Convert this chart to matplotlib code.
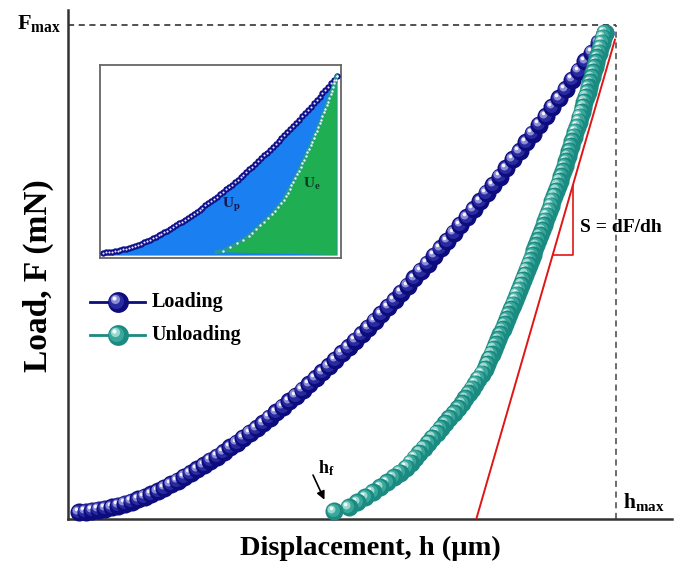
import matplotlib
matplotlib.use("Agg")
import matplotlib.pyplot as plt
from matplotlib.transforms import offset_copy

# load-displacement curve of a nanoindentation test (normalised: h_max = 1, F_max = 1)
h_load = [0.020, 0.032, 0.044, 0.056, 0.068, 0.080, 0.092, 0.104, 0.116, 0.128,
          0.140, 0.152, 0.164, 0.176, 0.188, 0.200, 0.212, 0.224, 0.236, 0.248,
          0.260, 0.272, 0.284, 0.296, 0.308, 0.320, 0.332, 0.344, 0.356, 0.368,
          0.380, 0.392, 0.404, 0.416, 0.428, 0.440, 0.452, 0.464, 0.476, 0.488,
          0.500, 0.512, 0.524, 0.536, 0.548, 0.560, 0.572, 0.584, 0.596, 0.608,
          0.620, 0.632, 0.644, 0.656, 0.668, 0.680, 0.692, 0.704, 0.716, 0.728,
          0.740, 0.752, 0.764, 0.776, 0.788, 0.800, 0.812, 0.824, 0.836, 0.848,
          0.860, 0.872, 0.884, 0.896, 0.908, 0.920, 0.932, 0.944, 0.956, 0.968,
          0.980]
F_load = [0.014, 0.015, 0.017, 0.019, 0.021, 0.024, 0.027, 0.031, 0.035, 0.040,
          0.045, 0.050, 0.056, 0.063, 0.070, 0.077, 0.085, 0.093, 0.101, 0.109,
          0.118, 0.126, 0.135, 0.145, 0.154, 0.164, 0.174, 0.184, 0.194, 0.205,
          0.216, 0.227, 0.238, 0.249, 0.261, 0.273, 0.285, 0.297, 0.309, 0.322,
          0.335, 0.348, 0.361, 0.374, 0.387, 0.401, 0.415, 0.429, 0.443, 0.458,
          0.472, 0.487, 0.502, 0.517, 0.533, 0.548, 0.563, 0.579, 0.595, 0.611,
          0.627, 0.643, 0.660, 0.676, 0.693, 0.710, 0.728, 0.744, 0.762, 0.780,
          0.798, 0.815, 0.834, 0.851, 0.870, 0.889, 0.907, 0.926, 0.944, 0.964,
          0.983]

h_unload = [0.979, 0.976, 0.974, 0.971, 0.969, 0.966, 0.964, 0.961, 0.958, 0.956,
            0.953, 0.950, 0.948, 0.945, 0.942, 0.940, 0.937, 0.934, 0.932, 0.929,
            0.926, 0.923, 0.920, 0.917, 0.915, 0.912, 0.909, 0.906, 0.903, 0.900,
            0.897, 0.894, 0.891, 0.887, 0.884, 0.881, 0.878, 0.874, 0.871, 0.868,
            0.865, 0.861, 0.858, 0.854, 0.851, 0.848, 0.844, 0.841, 0.837, 0.834,
            0.830, 0.827, 0.823, 0.819, 0.816, 0.812, 0.808, 0.804, 0.801, 0.797,
            0.793, 0.789, 0.785, 0.781, 0.777, 0.773, 0.769, 0.765, 0.761, 0.755,
            0.749, 0.743, 0.737, 0.731, 0.725, 0.719, 0.712, 0.704, 0.696, 0.688,
            0.680, 0.673, 0.665, 0.657, 0.649, 0.641, 0.633, 0.625, 0.617, 0.605,
            0.594, 0.582, 0.570, 0.556, 0.542, 0.528, 0.512, 0.485]
F_unload = [0.984, 0.974, 0.964, 0.954, 0.944, 0.934, 0.924, 0.914, 0.904, 0.894,
            0.884, 0.874, 0.864, 0.854, 0.844, 0.834, 0.824, 0.814, 0.804, 0.794,
            0.784, 0.774, 0.764, 0.754, 0.744, 0.734, 0.724, 0.714, 0.704, 0.694,
            0.684, 0.674, 0.664, 0.654, 0.644, 0.634, 0.624, 0.614, 0.604, 0.594,
            0.584, 0.574, 0.564, 0.554, 0.544, 0.534, 0.524, 0.514, 0.504, 0.494,
            0.484, 0.474, 0.464, 0.454, 0.444, 0.434, 0.424, 0.414, 0.404, 0.394,
            0.384, 0.374, 0.364, 0.354, 0.344, 0.334, 0.324, 0.314, 0.304, 0.294,
            0.284, 0.274, 0.264, 0.254, 0.244, 0.234, 0.224, 0.214, 0.204, 0.194,
            0.184, 0.174, 0.164, 0.154, 0.144, 0.134, 0.124, 0.114, 0.104, 0.094,
            0.084, 0.074, 0.064, 0.054, 0.044, 0.034, 0.024, 0.016]

h_max, F_max = 1.0, 1.0
# contact stiffness tangent: foot on the h axis and top end
tangent_h = [0.745, 0.998]
tangent_F = [0.0, 0.970]

navy_shades = ["#0c0c7c", "#2a2aa0", "#8c8cd6", "#f4f4ff"]
teal_shades = ["#1b8a80", "#3aa79c", "#9ad8cf", "#f2fffd"]

plt.rcParams["font.family"] = ["Liberation Serif", "DejaVu Serif"]
plt.rcParams["font.weight"] = "bold"
plt.rcParams["mathtext.fontset"] = "custom"
plt.rcParams["mathtext.rm"] = "Liberation Serif:bold"
plt.rcParams["mathtext.it"] = "Liberation Serif:bold"
plt.rcParams["mathtext.bf"] = "Liberation Serif:bold"

fig = plt.figure(figsize=(6.75, 5.65), dpi=100)
ax = fig.add_axes([0.1007, 0.0814, 0.8948, 0.9009])
ax.set_xlim(0, 1.102)
ax.set_ylim(0, 1.030)
ax.set_xticks([])
ax.set_yticks([])
for side in ["top", "right"]:
    ax.spines[side].set_visible(False)
for side in ["left", "bottom"]:
    ax.spines[side].set_color("#333333")
    ax.spines[side].set_linewidth(1.8)


def ball(a, x, y, ms, shades, z, clip=True):
    # shaded sphere: stacked circles shifted to the upper left
    layers = [(0.0, 1.0), (0.07, 0.72), (0.14, 0.44), (0.18, 0.2)]
    for (d, f), c in zip(layers, shades):
        tr = offset_copy(a.transData, fig=a.figure, x=-d * ms, y=d * ms, units="points")
        a.plot([x], [y], "o", ms=ms * f, mfc=c, mec="none", transform=tr,
               zorder=z, clip_on=clip)


# guide lines
ax.plot([0, h_max], [F_max, F_max], ls=(0, (4, 3)), color="#222222", lw=1.1, zorder=1)
ax.plot([h_max, h_max], [0, F_max], ls=(0, (4, 3)), color="#444444", lw=1.1, zorder=1)

for x, y in zip(h_load, F_load):
    ball(ax, x, y, 13, navy_shades, 3, clip=False)
for x, y in zip(h_unload, F_unload):
    ball(ax, x, y, 13, teal_shades, 4, clip=False)

# stiffness tangent and slope triangle
ax.plot(tangent_h, tangent_F, color="#e01515", lw=1.4, zorder=6)
tri_h = 0.9215
tri_F = 0.534
slope = (tangent_F[1] - tangent_F[0]) / (tangent_h[1] - tangent_h[0])
top_F = (tri_h - tangent_h[0]) * slope
left_h = tangent_h[0] + tri_F / slope
ax.plot([tri_h, tri_h, left_h], [top_F, tri_F, tri_F], color="#e01515", lw=1.2, zorder=6)
ax.text(0.934, 0.589, "S = dF/dh", fontsize=14, fontweight="bold", ha="left", va="center")

# labels at the extremes
ax.text(-0.012, F_max + 0.002, r"$\mathbf{F_{max}}$", fontsize=16, ha="right", va="center",
        transform=ax.transData, clip_on=False)
ax.text(h_max + 0.012, 0.012, r"$\mathbf{h_{max}}$", fontsize=15.5, ha="left", va="bottom")
ax.annotate("", xy=(0.470, 0.034), xytext=(0.445, 0.094),
            arrowprops=dict(arrowstyle="-|>", color="black", lw=1.2, mutation_scale=12))
ax.text(0.456, 0.092, r"$\mathbf{h_f}$", fontsize=13, ha="left", va="baseline")

# legend drawn by hand
for yy, shades, lbl in [(0.439, navy_shades, "Loading"), (0.372, teal_shades, "Unloading")]:
    ax.plot([0.040, 0.141], [yy, yy], color=shades[0], lw=2.0, zorder=5)
    ball(ax, 0.091, yy, 15, shades, 6)
    ax.text(0.153, yy, lbl, fontsize=14.5, fontweight="bold", ha="left", va="center")

fig.text(370 / 675, 1 - 548 / 565, "Displacement, h (µm)", fontsize=20.5, fontweight="bold",
         ha="center", va="center")
fig.text(38 / 675, 1 - 276 / 565, "Load, F (mN)", fontsize=24, fontweight="bold",
         ha="center", va="center", rotation=90)

# inset: work split into plastic and elastic parts
ins = fig.add_axes([100 / 675, 1 - 258 / 565, 241 / 675, 193 / 565])
ins.set_xlim(0.008, 0.996)
ins.set_ylim(-0.016, 1.045)
ins.set_xticks([])
ins.set_yticks([])
for s in ins.spines.values():
    s.set_color("#666666")
    s.set_linewidth(1.3)
ins.fill_between(h_load, 0, F_load, color="#1a7ff0", lw=0, zorder=1)
ins.fill(list(h_unload) + [h_unload[0]], list(F_unload) + [0.0], color="#1fae52", lw=0, zorder=2)
ins.plot(h_load, F_load, "o", ms=4.6, mfc="#10108a", mec="none", zorder=3)
ins.plot(h_load, F_load, "o", ms=1.5, mfc="#e8e8ff", mec="none", zorder=4)
ins.plot(h_unload, F_unload, color="#2a9a90", lw=2.6, zorder=3)
ins.plot(h_unload[::2], F_unload[::2], "o", ms=1.7, mfc="#f0fffc", mec="none", zorder=4)
ins.text(0.545, 0.275, r"$\mathbf{U_p}$", fontsize=11, color="#15154a", ha="center", va="center")
ins.text(0.875, 0.39, r"$\mathbf{U_e}$", fontsize=11, color="#0d3a1e", ha="center", va="center")

fig.savefig("out.png", dpi=100)
